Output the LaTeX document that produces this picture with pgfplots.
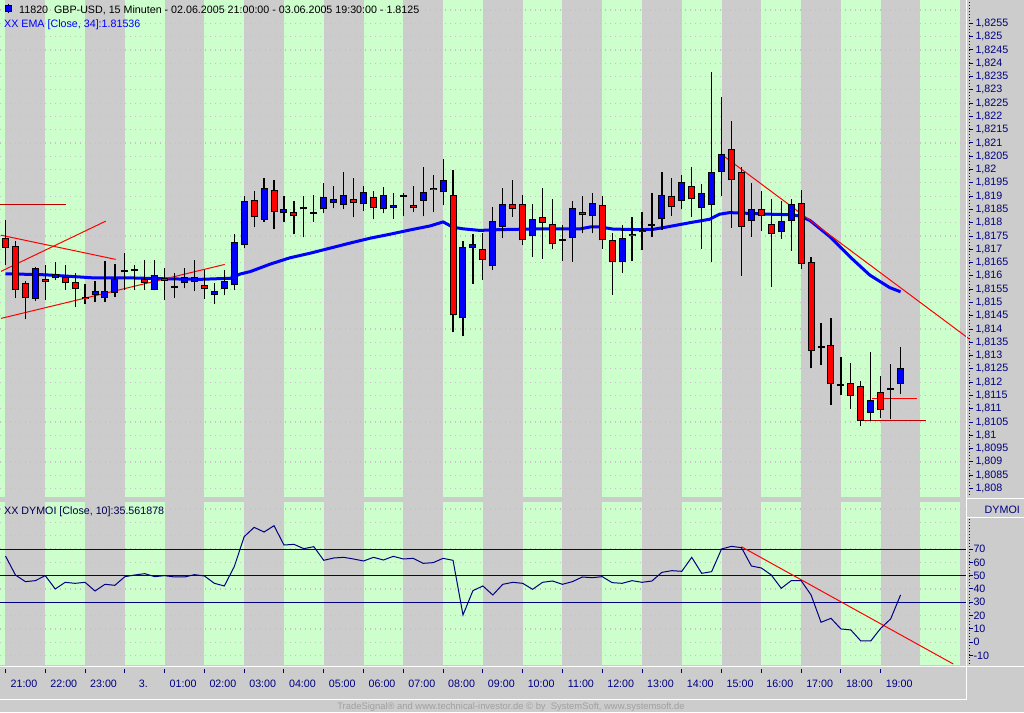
\documentclass[border=0pt]{standalone}
\usepackage{fontspec}
\setmainfont{Liberation Sans}
\usepackage{pgfplots}
\usepackage{pgfplotstable}
\pgfplotsset{compat=1.18}
\definecolor{bggray}{HTML}{CCCCCC}
\definecolor{bandgreen}{HTML}{CCFFCC}
\definecolor{navy}{HTML}{000080}
\definecolor{darknavy}{HTML}{000050}
\definecolor{gridcol}{HTML}{C8BFC8}
\definecolor{darkred}{HTML}{C00000}
\definecolor{footgray}{HTML}{A0A0A0}
\newcommand\tl{\fontsize{10.7}{12}\selectfont}

% up (blue) candles
\pgfplotstableread{
i O H L C
3 1.81512 1.81633 1.81507 1.81628
5 1.81591 1.81652 1.81584 1.81606
9 1.81527 1.81579 1.81503 1.81542
10 1.81516 1.81656 1.81503 1.81542
11 1.81534 1.81645 1.81519 1.81587
15 1.81546 1.81660 1.81545 1.81602
18 1.81572 1.81630 1.81553 1.81595
19 1.81576 1.81660 1.81542 1.81595
21 1.81527 1.81572 1.81495 1.81542
22 1.81549 1.81622 1.81527 1.81579
23 1.81564 1.81756 1.81546 1.81726
24 1.81715 1.81900 1.81704 1.81881
26 1.81811 1.81967 1.81804 1.81930
28 1.81835 1.81900 1.81804 1.81850
32 1.81850 1.81948 1.81835 1.81896
33 1.81873 1.81937 1.81854 1.81888
34 1.81865 1.81990 1.81850 1.81903
36 1.81869 1.81937 1.81843 1.81914
38 1.81850 1.81933 1.81835 1.81903
39 1.81854 1.81911 1.81813 1.81865
42 1.81881 1.82009 1.81824 1.81914
44 1.81914 1.82039 1.81865 1.81960
46 1.81440 1.81730 1.81372 1.81710
47 1.81704 1.81758 1.81571 1.81719
49 1.81636 1.81859 1.81623 1.81805
50 1.81783 1.81930 1.81741 1.81869
53 1.81749 1.81870 1.81672 1.81813
57 1.81741 1.81881 1.81653 1.81854
59 1.81824 1.81912 1.81760 1.81873
62 1.81651 1.81790 1.81610 1.81741
64 1.81764 1.81840 1.81698 1.81771
66 1.81813 1.81990 1.81773 1.81903
68 1.81881 1.81978 1.81850 1.81952
70 1.81854 1.81945 1.81702 1.81911
71 1.81865 1.82366 1.81651 1.81990
72 1.81990 1.82273 1.81901 1.82057
75 1.81805 1.81948 1.81748 1.81850
78 1.81764 1.81881 1.81740 1.81805
79 1.81805 1.81888 1.81695 1.81869
87 1.81083 1.81313 1.81053 1.81132
90 1.81192 1.81331 1.81154 1.81252
}\upc

% down (red) candles
\pgfplotstableread{
i O H L C
0 1.81741 1.81810 1.81641 1.81704
1 1.81711 1.81731 1.81518 1.81546
2 1.81572 1.81581 1.81437 1.81516
4 1.81587 1.81641 1.81509 1.81576
6 1.81595 1.81641 1.81547 1.81572
7 1.81576 1.81611 1.81482 1.81549
8 1.81519 1.81568 1.81494 1.81512
14 1.81587 1.81660 1.81547 1.81572
16 1.81591 1.81630 1.81509 1.81579
20 1.81564 1.81622 1.81514 1.81549
25 1.81884 1.81918 1.81783 1.81820
27 1.81922 1.81960 1.81775 1.81839
29 1.81839 1.81881 1.81756 1.81824
35 1.81888 1.81967 1.81820 1.81873
37 1.81896 1.81918 1.81813 1.81854
41 1.81865 1.81937 1.81839 1.81854
43 1.81930 1.81978 1.81839 1.81922
45 1.81903 1.81997 1.81387 1.81452
48 1.81700 1.81760 1.81585 1.81658
51 1.81869 1.81961 1.81823 1.81850
52 1.81869 1.81905 1.81715 1.81734
54 1.81820 1.81930 1.81665 1.81798
55 1.81794 1.81889 1.81700 1.81719
58 1.81839 1.81900 1.81760 1.81828
60 1.81865 1.81900 1.81702 1.81734
61 1.81734 1.81760 1.81529 1.81651
63 1.81756 1.81820 1.81657 1.81749
67 1.81899 1.81967 1.81827 1.81858
69 1.81937 1.82009 1.81823 1.81888
73 1.82076 1.82182 1.81781 1.81960
74 1.81990 1.82009 1.81601 1.81783
76 1.81850 1.81918 1.81770 1.81824
77 1.81794 1.81888 1.81559 1.81756
80 1.81873 1.81922 1.81626 1.81643
81 1.81651 1.81670 1.81252 1.81316
83 1.81339 1.81440 1.81115 1.81192
85 1.81196 1.81271 1.81100 1.81147
86 1.81185 1.81203 1.81034 1.81053
88 1.81162 1.81222 1.81064 1.81094
}\dnc

% doji candles
\pgfplotstableread{
i O H L C
12 1.81619 1.81686 1.81547 1.81619
13 1.81621 1.81641 1.81546 1.81621
17 1.81559 1.81611 1.81516 1.81559
30 1.81856 1.81899 1.81745 1.81856
31 1.81837 1.81903 1.81804 1.81837
40 1.81901 1.81911 1.81824 1.81901
56 1.81734 1.81790 1.81657 1.81734
65 1.81792 1.81912 1.81748 1.81792
82 1.81331 1.81421 1.81263 1.81331
84 1.81188 1.81294 1.81153 1.81188
89 1.81173 1.81267 1.81060 1.81173
}\djc

\newcommand\bands[2]{%
\fill[bandgreen] (axis cs:-0.553,#1) rectangle (axis cs:0,#2);
\fill[bandgreen] (axis cs:4,#1) rectangle (axis cs:8,#2);
\fill[bandgreen] (axis cs:12,#1) rectangle (axis cs:16,#2);
\fill[bandgreen] (axis cs:20,#1) rectangle (axis cs:24,#2);
\fill[bandgreen] (axis cs:28,#1) rectangle (axis cs:32,#2);
\fill[bandgreen] (axis cs:36,#1) rectangle (axis cs:40,#2);
\fill[bandgreen] (axis cs:44,#1) rectangle (axis cs:48,#2);
\fill[bandgreen] (axis cs:52,#1) rectangle (axis cs:56,#2);
\fill[bandgreen] (axis cs:60,#1) rectangle (axis cs:64,#2);
\fill[bandgreen] (axis cs:68,#1) rectangle (axis cs:72,#2);
\fill[bandgreen] (axis cs:76,#1) rectangle (axis cs:80,#2);
\fill[bandgreen] (axis cs:84,#1) rectangle (axis cs:88,#2);
\fill[bandgreen] (axis cs:92,#1) rectangle (axis cs:96,#2);}

\pgfplotsset{
  errbar/.style 2 args={only marks, mark=none, mark size=0pt,
    mark options={draw=none, fill=none}, forget plot,
    error bars/.cd, y dir=plus, y explicit, error mark=none,
    error bar style={draw=#1, line width=#2}},
  gridline/.style={gridcol, line width=1.2pt, dash pattern=on 1.2pt off 3.8pt, forget plot},
}

\begin{document}
\begin{tikzpicture}
\fill[bggray] (0pt,0pt) rectangle (1024pt,712pt);
\path[use as bounding box] (0pt,0pt) rectangle (1024pt,712pt);

% ---------------- main price panel ----------------
\begin{axis}[
  at={(0pt,215pt)}, anchor=south west,
  scale only axis, width=969.3pt, height=497pt,
  xmin=-0.553, xmax=96.91, ymin=1.80768, ymax=1.82638,
  axis x line=none, axis y line*=right,
  y axis line style={draw=none},
  scaled y ticks=false,
  ytick={1.808,1.8085,1.809,1.8095,1.81,1.8105,1.811,1.8115,1.812,1.8125,1.813,1.8135,1.814,1.8145,1.815,1.8155,1.816,1.8165,1.817,1.8175,1.818,1.8185,1.819,1.8195,1.82,1.8205,1.821,1.8215,1.822,1.8225,1.823,1.8235,1.824,1.8245,1.825,1.8255},
  yticklabels={{1,808},{1,8085},{1,809},{1,8095},{1,81},{1,8105},{1,811},{1,8115},{1,812},{1,8125},{1,813},{1,8135},{1,814},{1,8145},{1,815},{1,8155},{1,816},{1,8165},{1,817},{1,8175},{1,818},{1,8185},{1,819},{1,8195},{1,82},{1,8205},{1,821},{1,8215},{1,822},{1,8225},{1,823},{1,8235},{1,824},{1,8245},{1,825},{1,8255}},
  tick align=outside, major tick length=4pt,
  ytick style={navy, line width=1pt},
  yticklabel style={font=\tl, text=navy, anchor=west, inner sep=0pt, xshift=2pt},
]
\bands{1.80768}{1.82638}
\pgfplotsinvokeforeach{1.808,1.8085,1.809,1.8095,1.81,1.8105,1.811,1.8115,1.812,1.8125,1.813,1.8135,1.814,1.8145,1.815,1.8155,1.816,1.8165,1.817,1.8175,1.818,1.8185,1.819,1.8195,1.82,1.8205,1.821,1.8215,1.822,1.8225,1.823,1.8235,1.824,1.8245,1.825,1.8255,1.826}{
  \addplot[gridline] coordinates {(-0.553,#1) (96.91,#1)};
}
% EMA 34
\addplot[blue, line width=3pt] coordinates {
(0,1.81608) (4,1.81604) (7,1.81597) (9,1.81592) (13,1.81592) (16,1.81589) (19.6,1.81587) (22.6,1.81591) (23.6,1.81607) (24.6,1.81616) (26.6,1.81644) (28.6,1.81668) (30.6,1.81685) (32.6,1.81704) (34.6,1.81723) (36.7,1.81742) (38.7,1.81757) (40.7,1.81773) (42.7,1.81788) (44,1.81803) (45,1.81783) (46,1.81777) (47.7,1.81771) (49.7,1.81774) (53.7,1.81777) (57.8,1.81777) (58.8,1.81784) (59.8,1.81784) (61.1,1.81776) (63.8,1.81774) (65.1,1.81775) (66.5,1.81784) (67.8,1.81793) (68.8,1.81800) (70.8,1.81813) (71.8,1.81832) (72.8,1.81838) (74.9,1.81835) (76.9,1.81832) (78.9,1.81830) (79.9,1.81825) (80.9,1.81808) (82.9,1.81747) (84.9,1.81672) (86.9,1.81603) (88.9,1.81556) (90,1.81540)};
% trend lines
\addplot[darkred, line width=1pt] coordinates {(-0.553,1.81870) (6.05,1.81870)};
\addplot[red, line width=1pt] coordinates {(-0.45,1.81753) (11.08,1.81662)};
\addplot[red, line width=1pt] coordinates {(-0.45,1.81617) (10.08,1.81806)};
\addplot[red, line width=1pt] coordinates {(-0.45,1.81440) (22.04,1.81643)};
\addplot[red, line width=1pt] coordinates {(72.0,1.82057) (97.5,1.81346)};
\addplot[red, line width=1pt] coordinates {(87.1,1.81139) (91.6,1.81139)};
\addplot[darkred, line width=1pt] coordinates {(86.26,1.81054) (92.6,1.81054)};
% wicks
\addplot[errbar={black}{1.2pt}] table[x=i, y=L, y error plus expr={\thisrow{H}-\thisrow{L}}] {\upc};
\addplot[errbar={black}{1.2pt}] table[x=i, y=L, y error plus expr={\thisrow{H}-\thisrow{L}}] {\dnc};
\addplot[errbar={black}{1.2pt}] table[x=i, y=L, y error plus expr={\thisrow{H}-\thisrow{L}}] {\djc};
% bodies
\addplot[errbar={black}{7pt}] table[x=i, y=O, y error plus expr={\thisrow{C}-\thisrow{O}}] {\upc};
\addplot[errbar={blue}{5pt}] table[x=i, y expr={\thisrow{O}+0.0000376}, y error plus expr={\thisrow{C}-\thisrow{O}-0.0000752}] {\upc};
\addplot[errbar={black}{7pt}] table[x=i, y=C, y error plus expr={\thisrow{O}-\thisrow{C}}] {\dnc};
\addplot[errbar={red}{5pt}] table[x=i, y expr={\thisrow{C}+0.0000376}, y error plus expr={\thisrow{O}-\thisrow{C}-0.0000752}] {\dnc};
\addplot[errbar={black}{7pt}] table[x=i, y expr={\thisrow{O}-0.00004}, y error plus expr={0.00008}] {\djc};
\end{axis}

% ---------------- DYMOI panel ----------------
\begin{axis}[
  at={(0pt,47pt)}, anchor=south west,
  scale only axis, width=969.3pt, height=163.3pt,
  xmin=-0.553, xmax=96.91, ymin=-17.05, ymax=105.5,
  axis x line=none, axis y line*=right,
  y axis line style={draw=none},
  ytick={-10,0,10,20,30,40,50,60,70},
  yticklabels={-10,0,10,20,30,40,50,60,70},
  tick align=outside, major tick length=4pt,
  ytick style={navy, line width=1pt},
  yticklabel style={font=\tl, text=navy, anchor=west, inner sep=0pt, xshift=0pt},
]
\bands{-17.05}{105.5}
\pgfplotsinvokeforeach{-10,0,10,20,30,40,50,60,70,80,90,100}{
  \addplot[gridline] coordinates {(-0.553,#1) (96.91,#1)};
}
\addplot[navy, line width=1pt] coordinates {(-0.553,70) (96.58,70)};
\addplot[navy, line width=1pt] coordinates {(-0.553,50) (96.58,50)};
\addplot[navy, line width=1pt] coordinates {(-0.553,30) (96.58,30)};
\addplot[red, line width=1pt] coordinates {(74.0,71.7) (95.3,-16.3)};
\addplot[navy, line width=1pt] coordinates {
(0,64.75) (1,50.5) (2,45.5) (3,46.25) (4,50) (5,40) (6,45) (7,44.25) (8,45) (9,38.5) (10,43.5) (11,42.75) (12,49.25) (13,50.5) (14,51.5) (15,49.25) (16,50) (17,49) (18,49) (19,50.75) (20,49.75) (21,44.25) (22,42.25) (23,56.75) (24,79.25) (25,86.25) (26,82.75) (27,87.5) (28,73) (29,73.5) (30,70.25) (31,71.75) (32,61.5) (33,63.25) (34,63.75) (35,62.5) (36,61) (37,63.75) (38,61.75) (39,64.5) (40,62.5) (41,63) (42,59.25) (43,59.75) (44,63) (45,61.5) (46,20.5) (47,38.75) (48,42.25) (49,35.5) (50,43.5) (51,45) (52,44.25) (53,39.75) (54,45) (55,46) (56,43.5) (57,45.5) (58,49) (59,48.5) (60,49.25) (61,44.75) (62,44.25) (63,46.25) (64,45) (65,46) (66,52.5) (67,53.75) (68,53.25) (69,63.75) (70,51.75) (71,53) (72,70) (73,72) (74,71) (75,57.25) (76,55.75) (77,50.5) (78,40.5) (79,46.25) (80,46.25) (81,35.5) (82,15) (83,18) (84,10) (85,9.25) (86,1) (87,1) (88,10.5) (89,17.5) (90,35.56)};
\end{axis}

% ---------------- time axis ----------------
\begin{axis}[
  at={(0pt,39pt)}, anchor=south west,
  scale only axis, width=969.3pt, height=4.5pt,
  xmin=-0.553, xmax=96.91, ymin=0, ymax=1,
  axis y line=none, axis x line*=bottom,
  x axis line style={draw=none},
  xtick={0,4,...,88},
  xticklabels={21:00,22:00,23:00,3.,01:00,02:00,03:00,04:00,05:00,06:00,07:00,08:00,09:00,10:00,11:00,12:00,13:00,14:00,15:00,16:00,17:00,18:00,19:00},
  tick align=inside, major tick length=4.5pt,
  xtick style={navy, line width=1pt},
  xticklabel style={font=\tl, text=navy, anchor=base, inner sep=0pt, xshift=18.5pt, yshift=-14.7pt},
]
\addplot[draw=none, forget plot] coordinates {(0,0.5) (1,0.5)};
\end{axis}

% ---------------- frame decorations ----------------
\draw[white, line width=1pt] (0pt,46pt) -- (1024pt,46pt);
\draw[white, line width=1pt] (0pt,13pt) -- (966.7pt,13pt);
\draw[white, line width=1pt] (966.7pt,13pt) -- (966.7pt,712pt);
\draw[white, line width=1pt] (966.7pt,213.5pt) -- (1024pt,213.5pt);
\draw[white, line width=1pt] (966.7pt,194.5pt) -- (1024pt,194.5pt);
\draw[navy, line width=1pt, dash pattern=on 1pt off 2pt] (969.8pt,710pt) -- (969.8pt,216pt);
\draw[navy, line width=1pt, dash pattern=on 1pt off 2pt] (969.8pt,193pt) -- (969.8pt,48pt);

% header
\draw[black, line width=0.8pt] (8.3pt,708pt) -- (8.3pt,698.7pt);
\filldraw[fill=blue, draw=black, line width=0.8pt] (5.7pt,706.3pt) rectangle (11pt,701pt);
\node[anchor=base west, inner sep=0pt, font=\tl] at (19pt,698pt) {11820\ \ GBP-USD, 15 Minuten - 02.06.2005 21:00:00 - 03.06.2005 19:30:00 - 1.8125};
\node[anchor=base west, inner sep=0pt, font=\tl, text=blue] at (4pt,684pt) {XX EMA [Close, 34]:1.81536};
\node[anchor=base west, inner sep=0pt, font=\tl, text=darknavy] at (4pt,197pt) {XX DYMOI [Close, 10]:35.561878};
\node[anchor=base east, inner sep=0pt, font=\tl, text=navy] at (1020pt,198.3pt) {DYMOI};
\node[anchor=base, inner sep=0pt, font=\fontsize{9.4}{10}\selectfont, text=footgray] at (511pt,3pt) {TradeSignal® and www.technical-investor.de © by\ \ SystemSoft, www.systemsoft.de};
\end{tikzpicture}
\end{document}
